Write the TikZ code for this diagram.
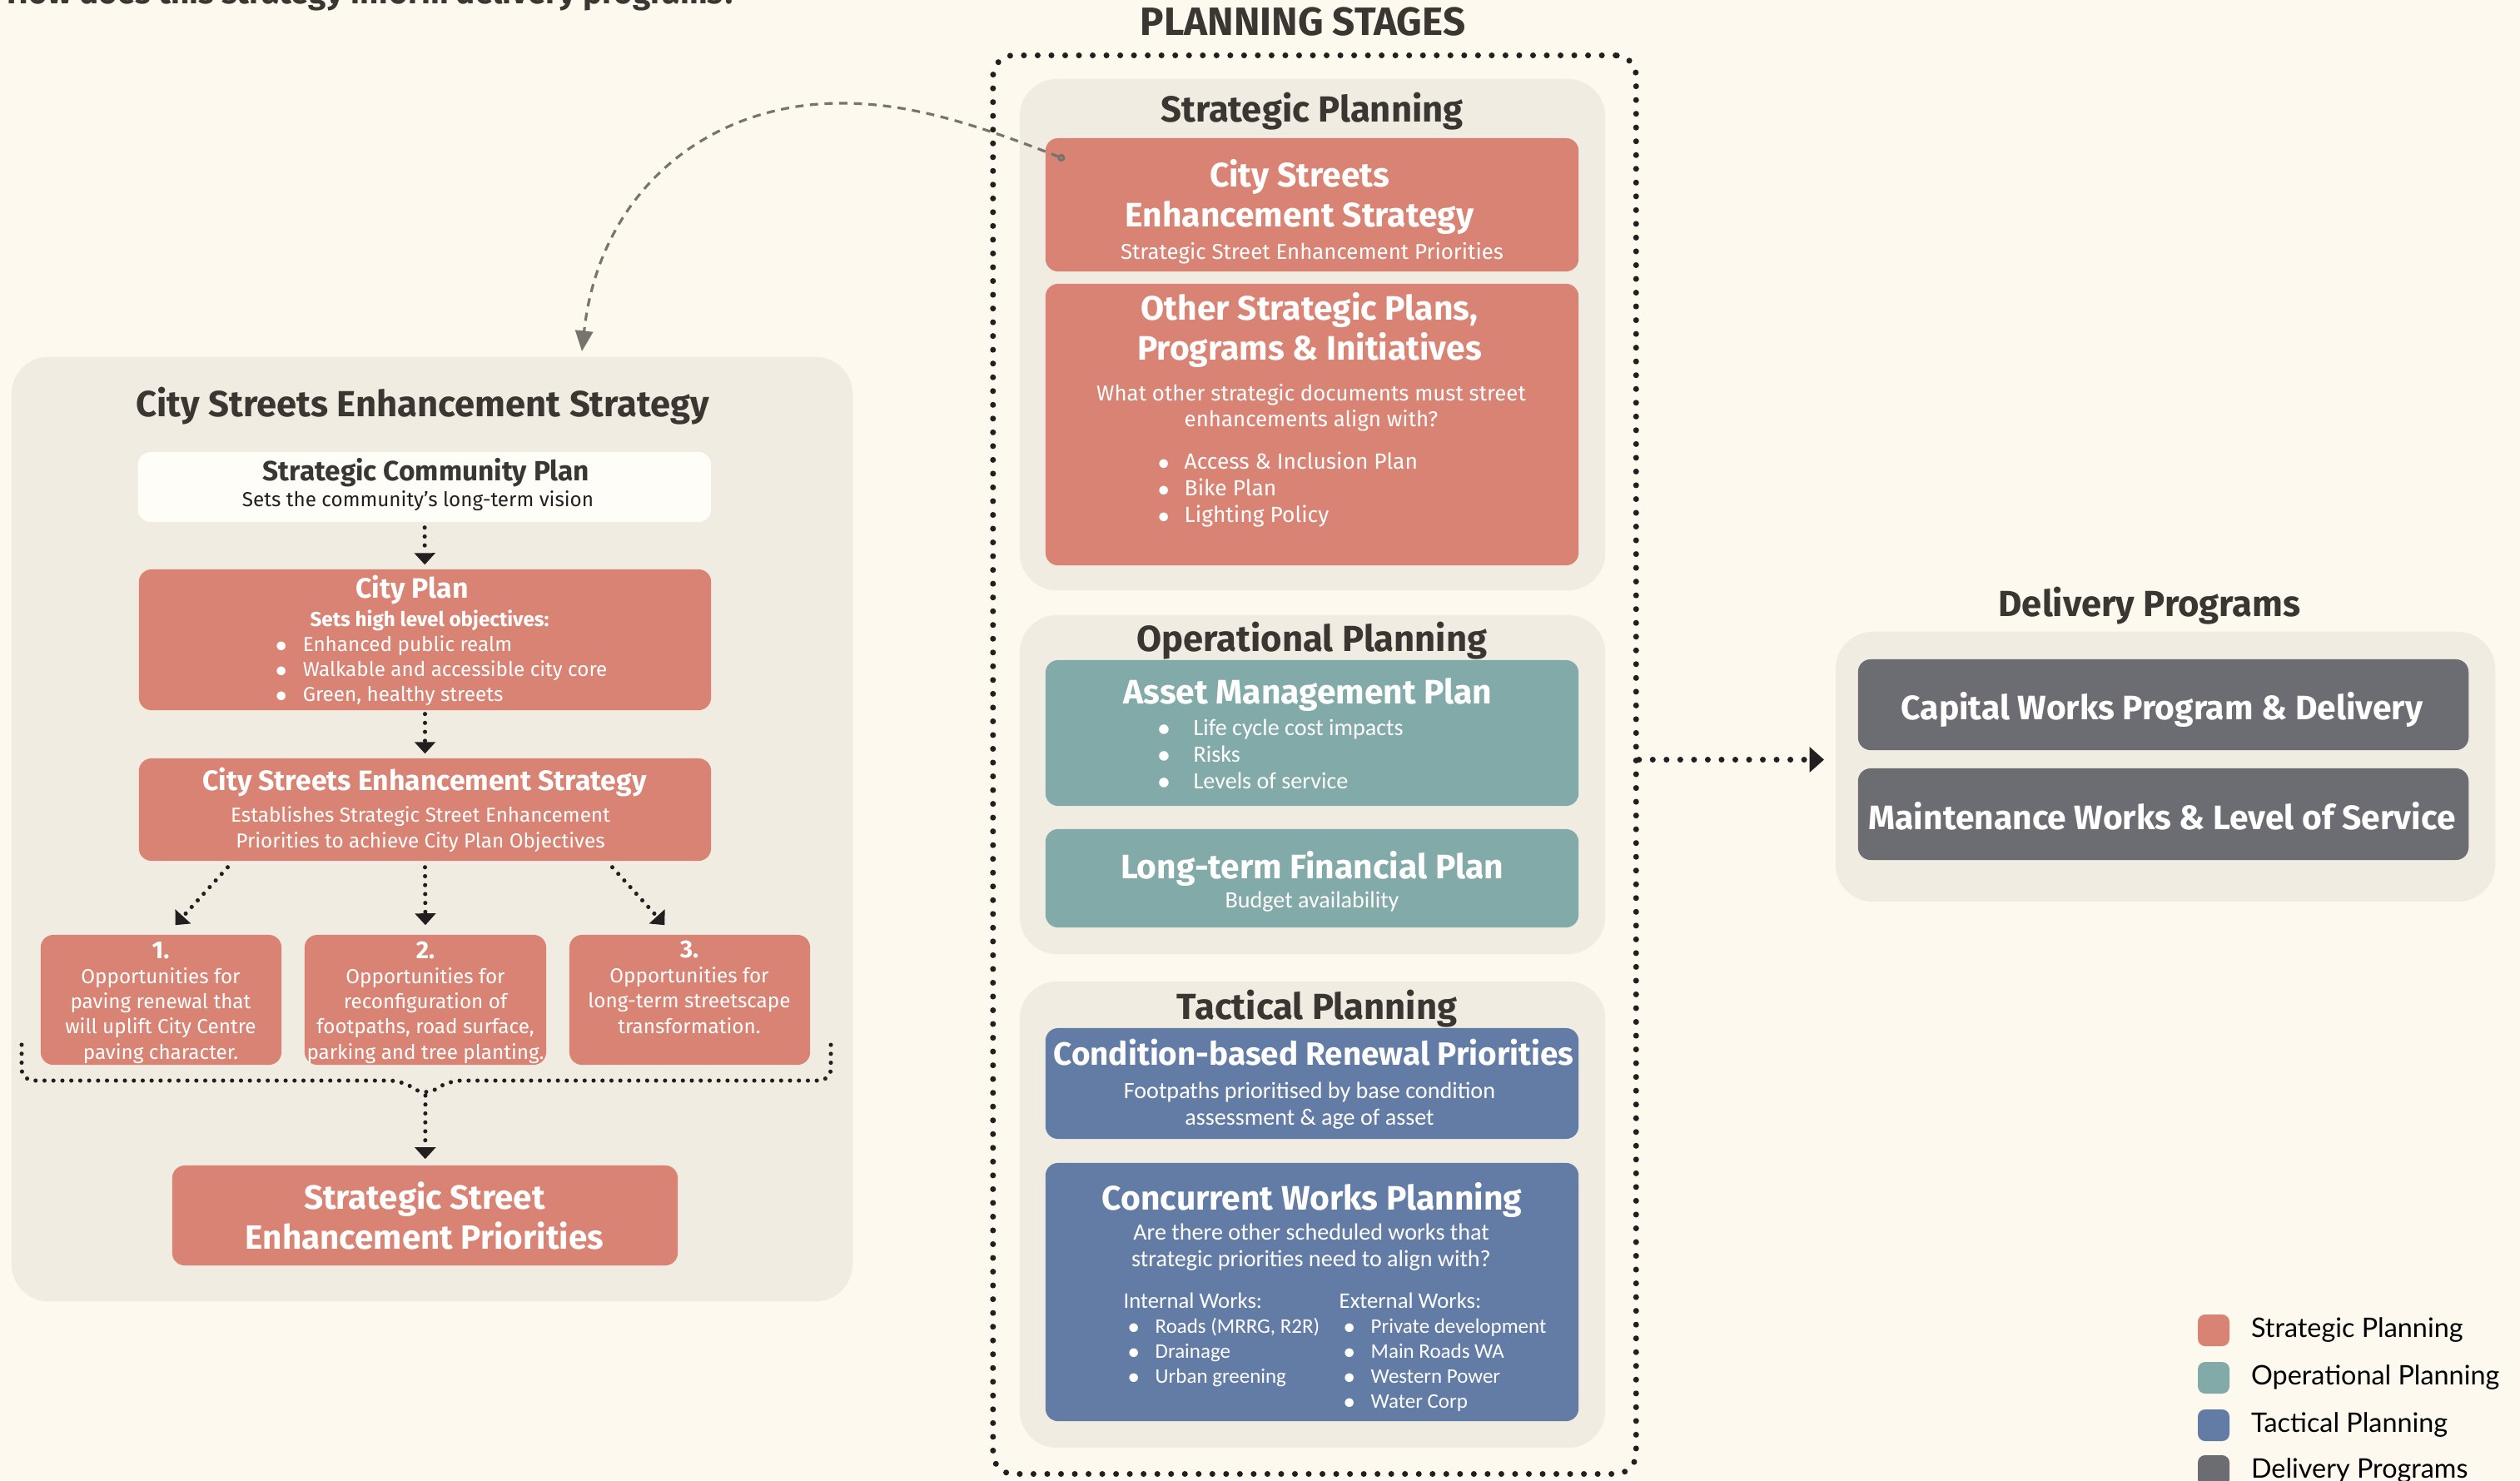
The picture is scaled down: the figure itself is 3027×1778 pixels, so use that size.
\documentclass[tikz,border=0pt]{standalone}
\usepackage{fontspec}
\setmainfont{Fira Sans}
\newfontfamily\calfont{Carlito}
\newfontfamily\legfont{Lato}
\usetikzlibrary{arrows.meta, positioning}

\definecolor{paper}{HTML}{FDF9EE}
\definecolor{panelgrey}{HTML}{F0ECE2}
\definecolor{stratred}{HTML}{D88373}
\definecolor{opteal}{HTML}{82AAA8}
\definecolor{tacblue}{HTML}{627CA6}
\definecolor{delgrey}{HTML}{6C6D72}
\definecolor{ink}{HTML}{3A3631}
\definecolor{dotink}{HTML}{231F20}
\definecolor{dashgrey}{HTML}{77736D}

\newcommand{\bul}[1]{\makebox[#1][l]{$\bullet$}}

\tikzset{
  panel/.style={fill=panelgrey, rounded corners=12.8pt, inner sep=0pt},
  box/.style={rounded corners=4.3pt, inner sep=0pt},
  heading/.style={anchor=base, text=ink, inner sep=0pt, font=\fontsize{12.4}{14}\selectfont\bfseries},
  title/.style={anchor=base, text=white, inner sep=0pt, align=center, font=\fontsize{11.6}{13.4}\selectfont\bfseries},
  smalltitle/.style={anchor=base, text=white, inner sep=0pt, align=center, font=\fontsize{9.6}{10}\selectfont\bfseries},
  smalltext/.style={anchor=base, text=white, inner sep=0pt, align=center, font=\fontsize{6.9}{8.6}\selectfont},
  bodytext/.style={anchor=base, text=white, inner sep=0pt, align=center, font=\fontsize{7.35}{8.8}\selectfont},
  caltext/.style={anchor=base, text=white, inner sep=0pt, align=center, font=\fontsize{8}{9.1}\selectfont\calfont},
  bullets/.style={anchor=base west, text=white, inner sep=0pt, align=left},
  bigdots/.style={draw=dotink, line width=2pt, line cap=round, dash pattern=on 0pt off 4.7pt},
  smalldots/.style={draw=dotink, line width=1.45pt, line cap=round, dash pattern=on 0pt off 3.05pt},
  dottip/.style={-{Triangle[length=4pt,width=7pt]}},
  legsq/.style={rounded corners=2.5pt, minimum width=0.38cm, minimum height=0.38cm, inner sep=0pt},
  legtext/.style={text=black, inner sep=0pt, font=\fontsize{9.2}{10}\selectfont\legfont}
}

\begin{document}
\begin{tikzpicture}[x=0.01cm, y=-0.01cm]
  \useasboundingbox (0,0) rectangle (3027,1778);
  \clip (0,0) rectangle (3027,1778);
  \fill[paper] (0,0) rectangle (3027,1778);

  % cut off question at the top
  \node[anchor=base west, text=ink, inner sep=0pt, font=\fontsize{11}{13}\selectfont\bfseries] (question) at (8,4) {How does this strategy inform delivery programs?};

  % left: strategy panel
  \node[panel, minimum width=10.10cm, minimum height=11.34cm] (leftpanel) at (519,996) {};
  \node[heading] (lefttitle) at (508,500) {City Streets Enhancement Strategy};

  \node[box, fill=paper!40!white, minimum width=6.88cm, minimum height=0.84cm] (scp) at (510,585) {};
  \node[anchor=base, text=ink, inner sep=0pt, font=\fontsize{9.5}{10}\selectfont\bfseries] (scptitle) at (512,577) {Strategic Community Plan};
  \node[anchor=base, text=dotink, inner sep=0pt, font=\fontsize{6.9}{8}\selectfont] (scpsub) at (502,608) {Sets the community’s long-term vision};

  \node[box, fill=stratred, minimum width=6.87cm, minimum height=1.69cm] (cityplan) at (510.5,768.5) {};
  \node[smalltitle] (cptitle) at (495,718) {City Plan};
  \node[smalltext, font=\fontsize{6.9}{8.6}\selectfont\bfseries] (cpsub) at (516,752) {Sets high level objectives:};
  \node[bullets, font=\fontsize{6.9}{8.5}\selectfont] (cplist) at (330,842)
    {\bul{9.4pt}Enhanced public realm\\
     \bul{9.4pt}Walkable and accessible city core\\
     \bul{9.4pt}Green, healthy streets};

  \node[box, fill=stratred, minimum width=6.87cm, minimum height=1.23cm] (cses) at (510.5,972.5) {};
  \node[smalltitle] (csestitle) at (510,949) {City Streets Enhancement Strategy};
  \node[smalltext] (csessub) at (505,1018) {Establishes Strategic Street Enhancement\\Priorities to achieve City Plan Objectives};

  \node[box, fill=stratred, minimum width=2.89cm, minimum height=1.56cm] (opp1) at (193.5,1201) {};
  \node[box, fill=stratred, minimum width=2.90cm, minimum height=1.56cm] (opp2) at (511,1201) {};
  \node[box, fill=stratred, minimum width=2.89cm, minimum height=1.56cm] (opp3) at (828.5,1201) {};
  \node[smalltext] (opp1text) at (193,1272) {{\fontsize{8.4}{8.6}\selectfont\bfseries 1.}\\Opportunities for\\paving renewal that\\will uplift City Centre\\paving character.};
  \node[smalltext] (opp2text) at (511,1272) {{\fontsize{8.4}{8.6}\selectfont\bfseries 2.}\\Opportunities for\\reconfiguration of\\footpaths, road surface,\\parking and tree planting.};
  \node[smalltext] (opp3text) at (828,1241) {{\fontsize{8.4}{8.6}\selectfont\bfseries 3.}\\Opportunities for\\long-term streetscape\\transformation.};

  \node[box, fill=stratred, minimum width=6.07cm, minimum height=1.20cm] (priorities) at (510.5,1460) {};
  \node[title, font=\fontsize{11.5}{13.4}\selectfont\bfseries] (prioritiestext) at (510,1500) {Strategic Street\\Enhancement Priorities};

  \draw[smalldots, dottip, shorten <=1.7pt, shorten >=1.4pt] (scp) -- (cityplan);
  \draw[smalldots, dottip, shorten <=1.1pt, shorten >=1.4pt] (cityplan) -- (cses);
  \draw[smalldots, dottip] ([shift={(-237,7)}]cses.south) -- ([shift={(17,-11)}]opp1.north);
  \draw[smalldots, dottip] ([shift={(0,7)}]cses.south) -- ([shift={(0,-11)}]opp2.north);
  \draw[smalldots, dottip] ([shift={(225,7)}]cses.south) -- ([shift={(-30,-11)}]opp3.north);

  \coordinate (bl) at (26,1255);
  \coordinate (br) at (998,1255);
  \coordinate (bm) at (511,1316);
  \draw[smalldots, rounded corners=4pt] (bl) |- (482,1298) -- (bm) -- (540,1298) -| (br);
  \draw[smalldots, dottip, shorten >=2pt] (bm) -- (priorities);

  % middle: planning stages
  \node[heading, font=\fontsize{13.5}{15}\selectfont\bfseries] (stagestitle) at (1565,42) {PLANNING STAGES};
  \node[bigdots, rounded corners=7pt, minimum width=7.72cm, minimum height=17.03cm] (stages) at (1579,918.5) {};

  \node[panel, minimum width=7.03cm, minimum height=6.14cm] (strategic) at (1576.5,402) {};
  \node[heading] (strategictitle) at (1576,146) {Strategic Planning};
  \node[box, fill=stratred, minimum width=6.40cm, minimum height=1.60cm] (ssp) at (1576,246) {};
  \node[title] (ssptitle) at (1561,272) {City Streets\\Enhancement Strategy};
  \node[bodytext] (sspsub) at (1576,311) {Strategic Street Enhancement Priorities};
  \node[box, fill=stratred, minimum width=6.40cm, minimum height=3.38cm] (others) at (1576,510) {};
  \node[title] (otherstitle) at (1573,432) {Other Strategic Plans,\\Programs \& Initiatives};
  \node[bodytext] (othersq) at (1575,512) {What other strategic documents must street\\enhancements align with?};
  \node[bullets, font=\fontsize{7.5}{9}\selectfont] (otherslist) at (1390,627)
    {\bul{9.1pt}Access \& Inclusion Plan\\
     \bul{9.1pt}Bike Plan\\
     \bul{9.1pt}Lighting Policy};

  \node[panel, minimum width=7.03cm, minimum height=4.07cm] (operational) at (1576.5,942.5) {};
  \node[heading] (operationaltitle) at (1576,782) {Operational Planning};
  \node[box, fill=opteal, minimum width=6.40cm, minimum height=1.75cm] (amp) at (1576,880.5) {};
  \node[title] (amptitle) at (1571,845) {Asset Management Plan};
  \node[bullets, font=\fontsize{8}{9.1}\selectfont\calfont] (amplist) at (1390,947)
    {\bul{12.2pt}Life cycle cost impacts\\
     \bul{12.2pt}Risks\\
     \bul{12.2pt}Levels of service};
  \node[box, fill=opteal, minimum width=6.40cm, minimum height=1.18cm] (ltfp) at (1576,1055) {};
  \node[title] (ltfptitle) at (1576,1055) {Long-term Financial Plan};
  \node[caltext] (ltfpsub) at (1576,1090) {Budget availability};

  \node[panel, minimum width=7.03cm, minimum height=5.60cm] (tactical) at (1576.5,1459) {};
  \node[heading] (tacticaltitle) at (1582,1224) {Tactical Planning};
  \node[box, fill=tacblue, minimum width=6.40cm, minimum height=1.33cm] (cbrp) at (1576,1301.5) {};
  \node[title, font=\fontsize{11}{13}\selectfont\bfseries] (cbrptitle) at (1578,1279) {Condition-based Renewal Priorities};
  \node[caltext] (cbrpsub) at (1573,1351) {Footpaths prioritised by base condition\\assessment \& age of asset};
  \node[box, fill=tacblue, minimum width=6.40cm, minimum height=3.10cm] (cwp) at (1576,1552) {};
  \node[title] (cwptitle) at (1576,1453) {Concurrent Works Planning};
  \node[caltext] (cwpq) at (1575,1521) {Are there other scheduled works that\\strategic priorities need to align with?};
  \node[bullets, font=\fontsize{7.1}{8.5}\selectfont\calfont] (internal) at (1349,1661)
    {{\fontsize{7.6}{8.5}\selectfont Internal Works:}\\
     \hspace*{1.4pt}\bul{9.4pt}Roads (MRRG, R2R)\\
     \hspace*{1.4pt}\bul{9.4pt}Drainage\\
     \hspace*{1.4pt}\bul{9.4pt}Urban greening};
  \node[bullets, font=\fontsize{7.1}{8.5}\selectfont\calfont] (external) at (1608,1691)
    {{\fontsize{7.6}{8.5}\selectfont External Works:}\\
     \hspace*{1.4pt}\bul{9.4pt}Private development\\
     \hspace*{1.4pt}\bul{9.4pt}Main Roads WA\\
     \hspace*{1.4pt}\bul{9.4pt}Western Power\\
     \hspace*{1.4pt}\bul{9.4pt}Water Corp};

  % right: delivery programs
  \node[heading] (delivtitle) at (2582,740) {Delivery Programs};
  \node[panel, minimum width=7.92cm, minimum height=3.24cm] (deliv) at (2601,921) {};
  \node[box, fill=delgrey, minimum width=7.33cm, minimum height=1.09cm] (capital) at (2598.5,846.5) {};
  \node[title, font=\fontsize{11.6}{12}\selectfont\bfseries] (capitaltext) at (2597,864) {Capital Works Program \& Delivery};
  \node[box, fill=delgrey, minimum width=7.33cm, minimum height=1.10cm] (maint) at (2598.5,978) {};
  \node[title, font=\fontsize{11.6}{12}\selectfont\bfseries] (mainttext) at (2597,996) {Maintenance Works \& Level of Service};

  \draw[bigdots, -{Triangle[length=5pt,width=8.5pt]}, shorten >=3.7pt] ([shift={(0,-6)}]stages.east) -- ([shift={(0,-6)}]stages.east -| deliv.west);

  % link back to the strategy panel
  \coordinate (bend) at (1010,124);
  \draw[dashgrey, line width=0.9pt, dash pattern=on 2.8pt off 2.2pt, {Circle[open,length=2.6pt,width=2.6pt]}-{Triangle[length=7pt,width=6pt]}]
    ([shift={(24,26)}]ssp.north west) .. controls (1150,140) and (1080,124) .. (bend)
    .. controls (850,124) and (720,230) .. ([shift={(180,-6)}]leftpanel.north);

  % legend
  \node[legsq, fill=stratred] (legS) at (2659,1598) {};
  \node[legsq, fill=opteal] (legO) at (2659,1655) {};
  \node[legsq, fill=tacblue] (legT) at (2659,1712) {};
  \node[legsq, fill=delgrey] (legD) at (2659,1767) {};
  \node[legtext, right=7pt of legS] (legStext) {Strategic Planning};
  \node[legtext, right=7pt of legO] (legOtext) {Operational Planning};
  \node[legtext, right=7pt of legT] (legTtext) {Tactical Planning};
  \node[legtext, right=7pt of legD] (legDtext) {Delivery Programs};
\end{tikzpicture}
\end{document}
